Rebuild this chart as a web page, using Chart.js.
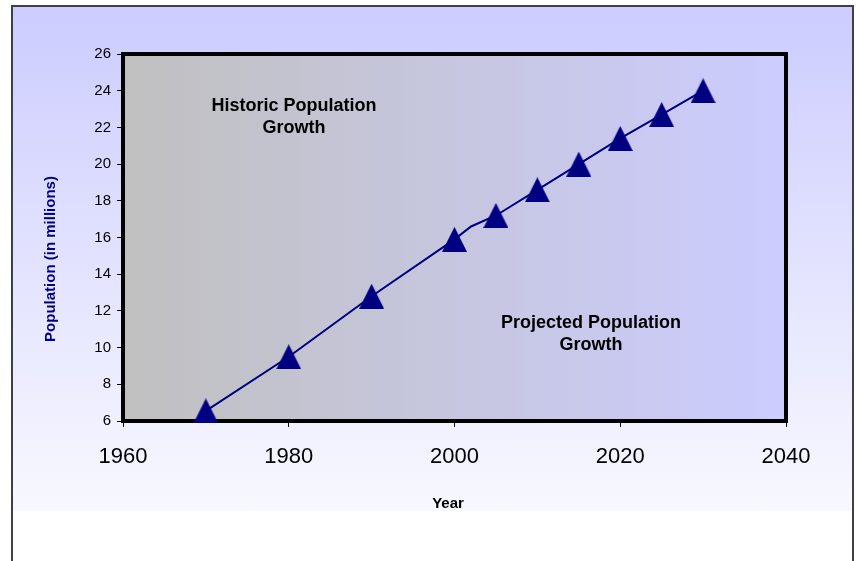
<!DOCTYPE html>
<html>
<head>
<meta charset="utf-8">
<script src="https://cdn.jsdelivr.net/npm/chart.js@4.4.1/dist/chart.umd.min.js"></script>
<style>
  html, body { margin: 0; padding: 0; background: #fff; }
  #wrap { position: relative; width: 856px; height: 561px; overflow: hidden; }
  #frame {
    position: absolute; left: 11px; top: 5px; width: 839px; height: 570px;
    border: 2px solid #404040;
    background: linear-gradient(to bottom, #ccccff 0px, #f8f8ff 504px, #ffffff 504px);
  }
  #chart { position: absolute; left: 0; top: 0; }
</style>
</head>
<body>
<div id="wrap">
  <div id="frame"></div>
  <canvas id="chart" width="856" height="561"></canvas>
</div>
<script>
// Data
const years = [1970, 1980, 1990, 2000, 2002, 2005, 2010, 2015, 2020, 2025, 2030];
const population = [6.55, 9.5, 12.8, 15.9, 16.6, 17.2, 18.6, 20.0, 21.4, 22.7, 24.0];
const noMarkerYears = [2002];
const xTicks = [1960, 1980, 2000, 2020, 2040];
const yTicks = [6, 8, 10, 12, 14, 16, 18, 20, 22, 24, 26];

const navy = '#000080';
const font = '"Liberation Sans", Arial, sans-serif';

// triangle marker like the excel one
const tri = document.createElement('canvas');
tri.width = 25; tri.height = 25;
const tctx = tri.getContext('2d');
tctx.fillStyle = navy;
tctx.beginPath();
tctx.moveTo(12.5, 0);
tctx.lineTo(25, 25);
tctx.lineTo(0, 25);
tctx.closePath();
tctx.fill();

// Plot area background + frame, axis titles, notes
const plotDeco = {
    id: 'plotDeco',
    beforeDatasetsDraw(chart) {
        const { ctx, chartArea: a } = chart;
        ctx.save();
        const g = ctx.createLinearGradient(a.left, 0, a.right, 0);
        g.addColorStop(0, '#c0c0c0');
        g.addColorStop(1, '#ccccff');
        ctx.fillStyle = g;
        ctx.fillRect(a.left, a.top, a.right - a.left, a.bottom - a.top);
        ctx.lineWidth = 4;
        ctx.strokeStyle = '#000';
        ctx.strokeRect(a.left, a.top, a.right - a.left, a.bottom - a.top);
        ctx.restore();
    },
    afterDraw(chart) {
        const { ctx } = chart;
        ctx.save();
        ctx.textAlign = 'center';
        ctx.textBaseline = 'middle';

        // y title
        ctx.fillStyle = navy;
        ctx.font = 'bold 15px ' + font;
        ctx.translate(51, 259);
        ctx.rotate(-Math.PI / 2);
        ctx.fillText('Population (in millions)', 0, 0);
        ctx.setTransform(1, 0, 0, 1, 0, 0);

        // x title
        ctx.fillStyle = '#000';
        ctx.fillText('Year', 448, 504);

        // notes
        ctx.font = 'bold 18px ' + font;
        ctx.fillText('Historic Population', 294, 106);
        ctx.fillText('Growth', 294, 128);
        ctx.fillText('Projected Population', 591, 323);
        ctx.fillText('Growth', 591, 345);
        ctx.restore();
    }
};

new Chart(document.getElementById('chart'), {
    type: 'line',
    data: {
        datasets: [{
            data: years.map((y, i) => ({ x: y, y: population[i] })),
            borderColor: navy,
            borderWidth: 2,
            tension: 0,
            clip: false,
            pointStyle: c => noMarkerYears.includes(years[c.dataIndex]) ? false : tri,
            pointBackgroundColor: navy,
            pointBorderColor: navy
        }]
    },
    options: {
        responsive: false,
        animation: false,
        devicePixelRatio: 1,
        layout: { padding: { top: 54, right: 70, left: 0, bottom: 0 } },
        plugins: { legend: { display: false }, tooltip: { enabled: false } },
        scales: {
            x: {
                type: 'linear',
                min: xTicks[0],
                max: xTicks[xTicks.length - 1],
                afterBuildTicks: s => { s.ticks = xTicks.map(v => ({ value: v })); },
                afterFit: s => { s.height = 140; },
                ticks: {
                    color: '#000', font: { family: font, size: 22 }, padding: 17, maxRotation: 0,
                    callback: v => String(v)
                },
                grid: { drawOnChartArea: false, tickLength: 6, color: '#000' },
                border: { display: false }
            },
            y: {
                min: yTicks[0],
                max: yTicks[yTicks.length - 1],
                afterBuildTicks: s => { s.ticks = yTicks.map(v => ({ value: v })); },
                afterFit: s => { s.width = 123; },
                ticks: { color: '#000', font: { family: font, size: 15 }, padding: 6 },
                grid: { drawOnChartArea: false, tickLength: 6, color: '#000' },
                border: { display: false }
            }
        }
    },
    plugins: [plotDeco]
});
</script>
</body>
</html>
